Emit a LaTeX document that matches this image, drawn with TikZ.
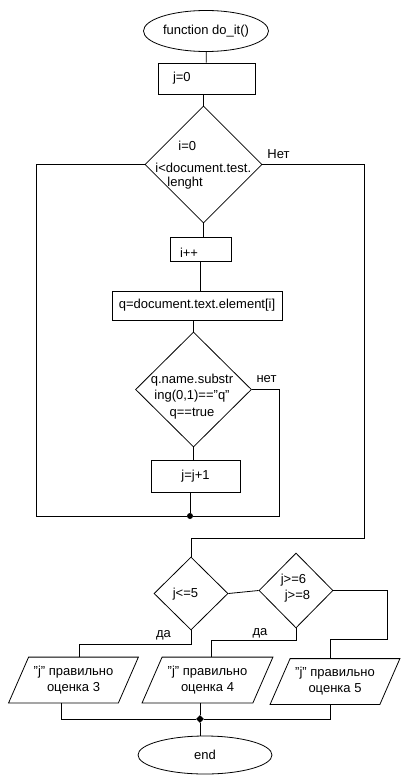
\documentclass[tikz,border=0pt]{standalone}
\usepackage{fontspec}
\setmainfont{Liberation Sans}
\usetikzlibrary{shapes.geometric}

\tikzset{
  every node/.style={font=\fontsize{13}{15.5}\selectfont},
  txt/.style={inner sep=0pt},
  block/.style={draw, rectangle, inner sep=0pt},
  term/.style={draw, ellipse, inner sep=0pt},
  decide/.style={draw, diamond, inner sep=0pt},
  io/.style={rectangle, inner sep=0pt, minimum height=45pt, align=center,
    font=\fontsize{13}{16}\selectfont},
}

\begin{document}
\begin{tikzpicture}[x=1pt,y=1pt,yscale=-1,line width=0.8pt]
\useasboundingbox (0,0) rectangle (409,781);

%Shape: Ellipse
\node [term, minimum width=125pt, minimum height=41pt] (start) at (206,31) {function do\_it()};
%Shape: Rectangle
\node [block, minimum width=97pt, minimum height=31pt, text width=67pt, inner xsep=15pt, align=left] (init) at (206.5,78.5) {j=0};
%Shape: Diamond
\node [decide, minimum width=117pt, minimum height=117pt] (loop) at (203.5,164.5) {};
%Shape: Rectangle
\node [block, minimum width=61pt, minimum height=24pt, text width=41pt, text height=17pt, text depth=0pt, inner xsep=10pt, align=left] (inc) at (200.5,249) {i++};
%Shape: Rectangle
\node [block, minimum width=170pt, minimum height=29pt] (elem) at (197,305.5) {q=document.text.element[i]};
%Shape: Diamond
\node [decide, minimum width=116pt, minimum height=115pt] (check) at (193.5,389.5) {};
%Shape: Rectangle
\node [block, minimum width=89pt, minimum height=32pt] (incj) at (195.5,476) {j=j+1};
%Shape: Circle
\node [circle, fill, inner sep=0pt, minimum size=6pt] (join) at (190,516) {};

%Shape: Diamond
\node [decide, minimum width=74pt, minimum height=73pt] (c5) at (191,593.5) {};
%Shape: Diamond
\node [decide, minimum width=74pt, minimum height=75pt] (c68) at (296,590.5) {};
%Shape: Parallelogram
\node [io, minimum width=109pt] (out3) at (73.5,680) {"j" правильно\\оценка 3};
\node [io, minimum width=110pt] (out4) at (207.5,680) {"j" правильно\\оценка 4};
\node [io, minimum width=109pt] (out5) at (335,681.5) {"j" правильно\\оценка 5};
\foreach \n in {out3,out4,out5}
  \draw ([xshift=-10pt]\n.south west) -- ([xshift=10pt]\n.north west)
    -- ([xshift=10pt]\n.north east) -- ([xshift=-10pt]\n.south east) -- cycle;
%Shape: Diamond
\node [diamond, fill, inner sep=0pt, minimum size=8pt] (mdot) at (200,719) {};
%Shape: Ellipse
\node [term, minimum width=134pt, minimum height=38pt] (end) at (205,755) {end};

% bend points
\coordinate (loopleft) at (36,516);
\coordinate (chkright) at (279,516);
\coordinate (exitr) at (364,538);
\coordinate (da3) at (79,644);
\coordinate (da4) at (211,640);
\coordinate (no5) at (387,639);

%Straight Lines
\draw (start) -- (init);
\draw (init.south -| loop.north) -- (loop.north);
\draw (loop.south) -- (loop.south |- inc.north);
\draw (inc.south) -- (inc.south |- elem.north);
\draw (check.north |- elem.south) -- (check.north);
\draw (check.south) -- (check.south |- incj.north);
\draw (join |- incj.south) -- (join);
\draw (check.east) -| (chkright) -- (join);
\draw (loop.west) -| (loopleft) -- (join);
\draw (loop.east) -| (exitr) -| (c5.north);
\draw (c5.east) -- (c68.west);
\draw (c5.south) |- (da3) -- (da3 |- out3.north);
\draw (c68.south) |- (da4) -- (da4 |- out4.north);
\draw (c68.east) -| (no5) -| ([xshift=-5pt]out5.north);
\draw ([xshift=-12.5pt]out3.south) |- (mdot) -| ([xshift=-5pt]out5.south);
\draw (mdot |- out4.south) -- (mdot);
\draw (mdot) -- (mdot |- end.north);

% Text Node
\node [txt, anchor=west] (loopa) at (178,146) {i=0};
\node [txt, anchor=west] (loopb) at (155,168) {i<document.test.};
\node [txt, anchor=west] (loopc) at (167,183) {lenght};
% Text Node
\node [txt, align=center, font=\fontsize{13}{16.5}\selectfont] (chktxt) at (192,396.5) {q.name.substr\\ing(0,1)=="q"\\q==true};
% Text Node
\node [txt] (c5txt) at (185.5,594) {j<=5};
\node [txt, align=left] (c68txt) at (295.5,588) {j>=6\\\hspace{4pt}j>=8};
% Text Node
\node [txt] (no1) at (278.5,154) {Нет};
\node [txt] (no2) at (266.5,379) {нет};
\node [txt] (yes1) at (163.5,635) {да};
\node [txt] (yes2) at (260,633) {да};

\end{tikzpicture}
\end{document}
